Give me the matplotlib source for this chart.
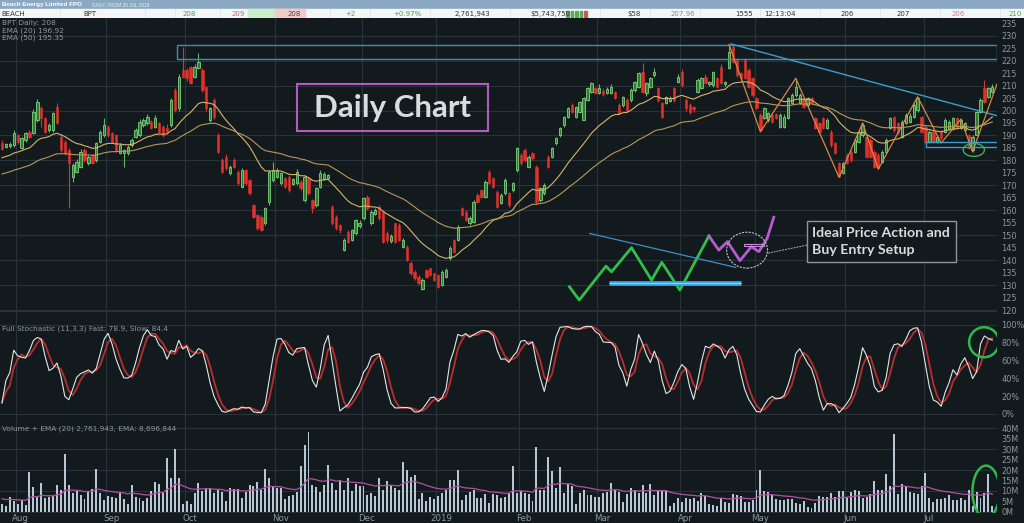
import numpy as np
import pandas as pd
import matplotlib
matplotlib.use('Agg')
import matplotlib.pyplot as plt
from matplotlib.patches import Rectangle, Ellipse

# ---- daily OHLC (BPT, from 26 Jul 2018) ----
opens = [
    187, 185.5, 185.8, 186, 190, 185, 188, 191.5, 190.8, 196.2,
    201, 196.9, 192, 192.2, 201.5, 189.5, 187.5, 184.2, 173.5, 175.5,
    177.5, 184, 178.8, 182, 180, 187.5, 190.2, 193.5, 190.8, 190,
    182.8, 183, 182.8, 186.2, 189.5, 190.2, 194.2, 194.8, 195.5, 193.5,
    194.9, 193.5, 192.9, 194.2, 208.2, 200.9, 216.2, 216.2, 217.6, 213.6,
    216.9, 216.2, 209.6, 196.2, 204.2, 190.2, 180.2, 181.5, 174.8, 180.2,
    175.5, 169.5, 176.1, 172.1, 162.1, 158.1, 157.4, 154.7, 163.4, 172.1,
    173.5, 170.8, 172.8, 173.5, 170.5, 170.8, 171.5, 164.1, 172.8, 164.1,
    162.1, 169.5, 172.5, 173, 161.4, 157.4, 154.1, 144, 151.4, 148,
    150.7, 153.5, 156.8, 165.4, 154.7, 158.5, 161.4, 159.4, 150.7, 147.5,
    154.7, 154.1, 145.4, 145.4, 138.7, 135.4, 133.4, 128.3, 136, 136.7,
    134.7, 134, 130, 133.4, 140.7, 148, 148, 160.8, 159.4, 154.7,
    155.4, 166.1, 168.1, 165.4, 175.5, 172.8, 167.4, 162.8, 166.8, 166.8,
    168.1, 176.1, 182.2, 184.2, 177.5, 182.8, 177.5, 164.1, 166.8, 181.5,
    181.5, 186.8, 190.2, 194.2, 197.5, 202.2, 197.5, 199.5, 196.2, 204.2,
    207.6, 208.9, 207, 208, 207, 206.9, 207.6, 202.2, 202.2, 204.2,
    204.2, 208.2, 209.6, 215.6, 206.9, 209.6, 214.2, 208.9, 202.9, 202.9,
    204, 208.9, 211.6, 215.6, 204.2, 202.2, 201.5, 207.6, 208.9, 213.6,
    210.5, 210.2, 212.9, 217.6, 210.5, 216.9, 225.6, 220.3, 215, 220.3,
    216.2, 212.9, 204.9, 198.2, 196.9, 196.2, 198.2, 198.5, 193.5, 193.5,
    196.9, 202.9, 206.2, 202.9, 204.9, 202.2, 204.9, 196.9, 194.9, 196.9,
    192.9, 191.5, 186.8, 178.8, 174.8, 182.2, 183.5, 183.5, 187.5, 190.2,
    189.5, 188.2, 183.5, 182.2, 179.5, 183.5, 192.9, 197.5, 194.9, 189.5,
    194.9, 195.5, 197.5, 200.2, 197.5, 193.5, 187.5, 191.5, 187.5, 191.5,
    191.5, 192.5, 192.5, 196.9, 192.9, 192.2, 190.2, 184.2, 190.2, 199.5,
    208.9, 205.6, 207.6,
]
highs = [
    188, 187, 187.5, 192, 190.5, 189.5, 191.5, 192, 200.5, 204.5,
    202, 197.5, 195, 199.5, 203, 190.5, 188, 185, 179, 180.5,
    184.5, 185, 182, 182.5, 187.5, 192, 196.9, 194, 191.5, 190.5,
    187, 184.5, 186, 189, 193, 196.5, 197, 198.5, 196, 198.2,
    195.5, 194, 194.5, 205, 209, 214.5, 225.6, 217, 218, 218.5,
    222.9, 217, 210, 201.5, 205, 191, 181, 182.5, 178, 181,
    176, 177, 176.5, 172.5, 162.5, 158.5, 158, 161.5, 176, 179.5,
    177, 175.5, 173.5, 174, 173, 176.5, 172, 174, 173.5, 164.5,
    169.5, 176, 175.5, 174.5, 162, 158, 154.5, 149, 152, 152.5,
    156.5, 156, 165.5, 166, 160, 161, 162, 160, 151.5, 150.5,
    155, 155, 149, 146, 139.5, 136, 134, 133, 136.5, 137,
    135, 134.5, 136, 137, 145.5, 148.5, 154, 161.5, 160, 157.5,
    164, 167, 168.5, 172, 176, 173.5, 168, 167, 173, 167.5,
    171.5, 185.5, 183, 185, 182, 183.5, 178, 169.5, 171, 182,
    185.5, 189.5, 193.5, 198, 201.5, 203, 202, 204, 205.5, 209.5,
    211.5, 209.5, 210.5, 209, 209.5, 210.5, 208, 203, 206, 205,
    209, 212, 215.5, 219.2, 211.5, 213.5, 217, 209.5, 203.5, 206,
    206, 209.5, 214.5, 216.5, 205, 203, 202, 213, 213.5, 214.5,
    212, 216, 213.5, 218.5, 212, 226.7, 226.5, 221, 215.5, 221,
    217, 213.5, 205.5, 199, 201.5, 199.5, 198.5, 199, 199, 198.5,
    205.5, 207, 212.9, 207, 205.5, 205.5, 205.5, 197.5, 195.5, 197.5,
    197, 192, 187.5, 179.5, 179.5, 183, 184, 188.8, 192, 195,
    190, 189, 184, 183, 184, 189, 197.5, 198, 195.5, 196,
    199, 199, 203, 205.5, 198, 194, 192, 192, 190, 192,
    196.8, 196, 197.5, 197.5, 197, 195.5, 190.5, 190, 200, 205,
    212.2, 209.5, 210.5,
]
lows = [
    184, 185, 185, 185.5, 186.5, 184.5, 187.5, 189, 190.5, 195.5,
    193.5, 191, 191.5, 191.5, 194.5, 183.5, 182, 160.8, 171.5, 175,
    177, 179.5, 178, 178.5, 179.5, 187, 189.5, 189.5, 187, 183.5,
    182.5, 177.5, 182, 185.5, 189, 189.5, 193.5, 194, 192.5, 193,
    191, 189.5, 191, 193.5, 199.5, 200, 213, 212, 210.5, 213,
    216.5, 207.5, 200, 195.5, 196.5, 183, 175, 176, 174, 177,
    170, 169, 170, 166, 157, 152, 151.5, 154, 162, 171.5,
    173, 170, 169, 167.5, 170, 170, 168, 163.5, 166, 159,
    161.5, 169, 172, 172.5, 154, 152, 151, 143.5, 147, 147.5,
    150, 153, 156, 160, 154, 158, 156, 147, 147, 147,
    147, 147.5, 145, 139.5, 134, 132, 130, 128, 133, 133.5,
    131.5, 129, 129.5, 133, 140, 143, 147.5, 157.5, 155.5, 154,
    155, 163, 165, 165, 170.5, 169, 161, 162.5, 166, 161.5,
    167.5, 175.5, 178, 179.5, 177, 180, 162.5, 163.5, 166, 177,
    181, 186, 189.5, 193.5, 197, 199, 197, 199, 196, 204,
    207, 206.5, 206.5, 206, 206.5, 206.5, 204.5, 198.5, 201.5, 199.5,
    203.5, 207.5, 209, 207, 206, 209, 213.5, 203.5, 197, 202.5,
    203.5, 203.5, 211, 209.5, 200, 198.5, 199.5, 207, 208.5, 210.5,
    210, 209.5, 209, 210.5, 210, 216.5, 219, 213.5, 212, 212.5,
    209, 205.5, 200.5, 191.5, 196.5, 195.5, 195, 196.5, 193, 193,
    196.5, 202.5, 205.5, 202.5, 201, 201.5, 202.5, 192.5, 191, 192.5,
    192.5, 185.5, 182.5, 173.2, 174.5, 178.5, 179.5, 183, 187, 189.5,
    181, 181, 177, 176.5, 179, 183, 192.5, 191.5, 190.5, 189,
    194.5, 195, 197, 199.5, 191, 187, 187, 187, 187, 188.5,
    191, 192, 192, 192.5, 192.5, 192, 184.5, 183.5, 190, 199,
    203, 205, 207,
]
closes = [
    184.5, 186.5, 186.6, 191, 187.5, 188.8, 190.8, 189.5, 199.5, 203.5,
    197, 191.5, 194, 198.9, 195, 184.2, 182.8, 178.8, 178, 179.5,
    183.5, 180, 181.5, 179, 186.8, 191.5, 194, 190.2, 187.5, 184.2,
    186.2, 184, 185.5, 188.2, 192.2, 195.5, 196.2, 197.5, 192.9, 196.9,
    191.5, 190.2, 191.5, 204.2, 200.2, 213.6, 213.6, 212.9, 210.9, 217.6,
    219.6, 208.2, 200.9, 200.9, 197.5, 183.5, 175.5, 176.8, 177.5, 177.5,
    170.8, 176.1, 170.8, 166.8, 157.4, 152.7, 152.1, 160.8, 175.5, 176.1,
    176.1, 174.8, 169.5, 168.1, 172.5, 175.5, 168.8, 173.5, 166.8, 160.8,
    168.8, 174.8, 174.5, 174, 154.7, 152.7, 152.1, 148, 147.4, 152,
    156, 155, 164.8, 160.8, 159.4, 160, 156.8, 147.4, 148, 149.5,
    147.4, 148, 148, 140.1, 134.7, 132.7, 130.7, 132, 133.4, 134,
    132, 129.4, 135.4, 136, 144.7, 143.4, 153.4, 158.1, 156.1, 156.8,
    163.4, 163.4, 165.4, 171.5, 170.8, 169.5, 161.4, 166.1, 172.1, 162.1,
    170.8, 184.8, 178.8, 180.2, 181.5, 180.8, 163.4, 168.8, 170.1, 177.5,
    184.8, 188.8, 192.8, 197.5, 200.9, 199.5, 201.5, 203.5, 204.9, 208.9,
    210.9, 206.9, 209, 206.5, 208.5, 209.6, 204.9, 198.9, 205.6, 200.2,
    208.2, 211.6, 214.9, 207.6, 210.9, 212.9, 215.6, 204.2, 197.5, 205.6,
    205, 204.2, 213.6, 210.2, 200.9, 199.5, 200.5, 212.2, 212.9, 210.9,
    211.5, 215.6, 209.6, 210.9, 211.5, 223.6, 219.6, 214.2, 213, 212.9,
    209.6, 206.2, 200.9, 192.2, 200.9, 198.9, 195.5, 197, 198.2, 197.5,
    204.9, 206.2, 209.6, 206.2, 201.5, 204.9, 202.9, 192.9, 191.5, 192.9,
    196.2, 186.2, 182.8, 173.5, 178.8, 178.8, 180.2, 188.2, 191.5, 194.2,
    181.5, 181.5, 177.5, 176.8, 183.5, 188.2, 196.9, 192.2, 190.8, 195.5,
    198.2, 198, 202.2, 204.9, 191.5, 187.5, 191.5, 187.5, 189.5, 188.8,
    196.2, 195.5, 196.9, 192.9, 196.2, 194.8, 184.8, 189.5, 199.5, 204.2,
    203.5, 208.9, 209.6,
]
# volume in millions of shares
volume = [
    4, 2.6, 7, 5, 4, 5.7, 3.4, 19, 11.8, 7.2,
    14, 6.5, 7.2, 7.7, 13, 10.4, 27.5, 13, 9.2, 10,
    8, 6.1, 10, 11, 20.6, 9.2, 5.7, 7.5, 7.2, 6.5,
    9.2, 6, 4, 12.8, 7.2, 6.5, 5, 6.5, 10, 14.4,
    13.3, 9.2, 25.5, 16, 30, 16, 3.8, 5, 3.8, 9,
    13.7, 10, 11.2, 11.2, 9.2, 10.4, 9.7, 5.4, 11.2, 11,
    11, 6.5, 9.7, 12.8, 12.3, 14.4, 10.7, 20.3, 16.4, 12,
    11.5, 11.2, 6, 7.5, 8, 9.7, 22, 31.7, 38.3, 12.8,
    11.8, 9.7, 12.8, 22.5, 13.9, 10.4, 15.4, 10.4, 16.4, 10,
    13.5, 12.3, 12.3, 8, 9, 7.5, 16.4, 10.7, 14.8, 12.8,
    11.2, 10.7, 23.8, 20.2, 16.7, 17.8, 6, 9.1, 5.4, 6.9,
    6.1, 7.6, 8.8, 10.4, 15.1, 15.1, 20.2, 5.7, 8.3, 9.6,
    10.4, 6.5, 6.5, 8.5, 4.1, 8.5, 8, 6.5, 6.9, 9.1,
    21.7, 9.1, 10, 8.8, 8.5, 5.4, 30.9, 10.4, 10.7, 26.1,
    19.4, 11.2, 21.4, 9.1, 13.5, 12.3, 3.8, 8.8, 10.4, 8,
    8, 7.2, 7.2, 8.8, 9.6, 13.9, 10.4, 9.6, 4.9, 8.5,
    11.5, 10.4, 9.1, 12.8, 8.8, 13.2, 8.3, 10.7, 10, 9.9,
    2.8, 4.4, 6.5, 4.9, 6.8, 6, 6.5, 5.4, 8.8, 7.6,
    3.8, 3.3, 2.8, 6.5, 4.9, 4.1, 8.5, 8, 7.6, 4.9,
    4.9, 5.7, 10.7, 19.8, 9.9, 9.6, 8, 6, 5.7, 5.7,
    6, 6.1, 4.1, 3.8, 5.2, 2.5, 1.7, 4.1, 7.6, 6.9,
    6.9, 8.8, 7.2, 10, 10, 6.9, 9.6, 10.4, 10, 6.5,
    6.9, 8.5, 14.6, 10.7, 10.7, 18, 12.3, 37.2, 8.5, 13.2,
    12.3, 9.6, 8.8, 8.5, 12.3, 18.7, 6.5, 4.6, 6, 6,
    6.8, 8, 5.7, 5.7, 6.5, 5.7, 10.4, 2.8, 9.6, 6.5,
    9.1, 18, 2.8,
]

month_labels = ['Aug', 'Sep', 'Oct', 'Nov', 'Dec', '2019', 'Feb', 'Mar', 'Apr', 'May', 'Jun', 'Jul']
month_start = [4, 27, 47, 70, 92, 111, 132, 152, 173, 192, 215, 235]

# moving average starting levels (already running before the first bar)
ema20_seed = 180.7
ema50_seed = 174.1
vol_ema_seed = 6.5

# drawn annotations (bar index, price)
box_top = (44.5, 220.6, 226.3)
trend_pts = [(185.5, 226.7), (254.2, 197.5)]
zigzag_pts = [(185, 226.5), (193, 191.5), (202, 212.9), (213, 173.2), (219, 195),
              (223, 176.5), (233, 205.5), (239, 187), (244, 196.5), (247, 183.5), (253.2, 210.6)]
support_box = (235.1, 185.5, 187.5)
ideal_green = [(144.4, 129.3), (146.9, 124.0), (153.7, 137.6), (155.1, 135.3), (160.2, 145.0),
               (165.3, 132.0), (167.9, 139.1), (172.5, 128.0), (179.9, 149.7)]
ideal_pink = [(179.9, 149.7), (182.4, 144.0), (184.6, 147.4), (187.8, 139.8), (190.7, 145.4),
              (192.6, 143.4), (194.7, 148.7), (196.4, 157.2)]
ideal_support = [(154.5, 131.0), (188.1, 131.0)]
ideal_trend = [(149.6, 150.7), (186.7, 137.1)]

BG = '#131a1e'
GRID = '#27323a'
TXT = '#8d979d'
UP = '#5fb55f'
DOWN = '#e0312b'


def ema(values, span, seed):
    k = 2.0 / (span + 1)
    out = []
    prev = seed
    for v in values:
        prev = prev + k * (v - prev)
        out.append(prev)
    return np.array(out)


df = pd.DataFrame({'o': opens, 'h': highs, 'l': lows, 'c': closes, 'v': volume})
x = np.arange(len(df))
df['ema20'] = ema(df.c, 20, ema20_seed)
df['ema50'] = ema(df.c, 50, ema50_seed)
df['vema'] = ema(df.v, 20, vol_ema_seed)
ll = df.l.rolling(11, min_periods=1).min()
hh = df.h.rolling(11, min_periods=1).max()
raw = 100 * (df.c - ll) / (hh - ll)
df['fast'] = raw.rolling(3, min_periods=1).mean()
df['slow'] = df.fast.rolling(3, min_periods=1).mean()

W, H = 1024, 523
fig = plt.figure(figsize=(W / 100, H / 100), dpi=100, facecolor=BG)
plt.rcParams['font.family'] = ['DejaVu Sans']

right = 997 / W
ax_p = fig.add_axes([0, 1 - 311 / H, right, 293 / H])
ax_s = fig.add_axes([0, 1 - 418 / H, right, 107 / H])
ax_v = fig.add_axes([0, 1 - 513 / H, right, 95 / H])

for ax in (ax_p, ax_s, ax_v):
    ax.set_facecolor(BG)
    for s in ax.spines.values():
        s.set_visible(False)
    ax.set_xlim(-0.5, 253.2)
    ax.yaxis.tick_right()
    ax.tick_params(axis='y', length=0, pad=3, labelsize=5.9, labelcolor=TXT)
    ax.tick_params(axis='x', length=0)
    for m in month_start:
        ax.axvline(m - 0.5, color=GRID, lw=0.8, zorder=0)
    ax.set_xticks([])

# ---- price panel ----
ax_p.set_ylim(119.6, 237.1)
ax_p.set_yticks(range(120, 236, 5))
for g in range(120, 231, 10):
    ax_p.axhline(g, color=GRID, lw=0.8, zorder=0)

up = df.c >= df.o
ax_p.vlines(x, df.l, df.h, colors=np.where(up, UP, DOWN), lw=0.8, zorder=2)
body = (df.c - df.o).abs().clip(lower=0.4)
ax_p.bar(x[up], body[up], bottom=df.o[up], width=0.6, color='#2f7a35',
         edgecolor='#7fd17d', linewidth=0.6, zorder=3)
ax_p.bar(x[~up], body[~up], bottom=df.c[~up], width=0.6, color=DOWN,
         edgecolor=DOWN, linewidth=0.4, zorder=3)
ax_p.plot(x, df.ema20, color='#d6b46a', lw=0.8, zorder=4)
ax_p.plot(x, df.ema50, color='#b8985a', lw=0.8, zorder=4)

ax_p.add_patch(Rectangle((box_top[0], box_top[1]), 253.2 - box_top[0], box_top[2] - box_top[1],
                         fill=False, ec='#3a8fb4', lw=1.0, zorder=5))
tx, ty = zip(*trend_pts)
ax_p.plot(tx, ty, color='#3f9ccd', lw=1.0, zorder=5)
zx, zy = zip(*zigzag_pts)
ax_p.plot(zx, zy, color='#d9864a', lw=0.9, zorder=5)
ax_p.add_patch(Rectangle((support_box[0], support_box[1]), 254 - support_box[0],
                         support_box[2] - support_box[1], fill=False, ec='#3f9ccd', lw=1.0, zorder=5))
ax_p.add_patch(Ellipse((247.3, 184.2), 5.4, 5.2, fill=False, ec='#3fae5a', lw=1.0, zorder=6))

# "Daily Chart" title box
ax_p.add_patch(Rectangle((75.1, 191.8), 48.6, 18.8, fill=False, ec='#b45bbd', lw=1.5, zorder=6))
ax_p.text(99.4, 201.0, 'Daily Chart', color='#d9dcdd', fontsize=22.5, fontweight='bold',
          family='Lato', ha='center', va='center', zorder=7)

# ideal setup sketch
gx, gy = zip(*ideal_green)
ax_p.plot(gx, gy, color='#2fbf4a', lw=2, zorder=6)
px, py = zip(*ideal_pink)
ax_p.plot(px, py, color='#b65bd0', lw=2, zorder=6)
sx, sy = zip(*ideal_support)
ax_p.plot(sx, sy, color='#2f9fe0', lw=3.5, zorder=6, solid_capstyle='butt')
ax_p.plot(sx, sy, color='#8fd0f5', lw=1.0, zorder=6, solid_capstyle='butt')
itx, ity = zip(*ideal_trend)
ax_p.plot(itx, ity, color='#3b8fc8', lw=0.9, zorder=6)
ax_p.add_patch(Rectangle((188.8, 145.6), 5.1, 0.9, fill=False, ec='#c78ad8', lw=0.8, zorder=6))
ax_p.add_patch(Ellipse((189.6, 144.0), 10.4, 14.4, fill=False, ec='#b9bfc2', lw=0.8,
                       ls=(0, (2, 1)), zorder=6))
ax_p.plot([194.9, 204.8], [142.8, 146.0], color='#aab0b3', lw=0.7, ls=(0, (2, 1)), zorder=6)
ax_p.add_patch(Rectangle((204.8, 139.1), 37.9, 16.6, fill=True, fc=BG, ec='#8f9598', lw=1.0, zorder=6))
ax_p.text(206.0, 147.4, 'Ideal Price Action and\nBuy Entry Setup', color='#d9dcdd', fontsize=10.2,
          fontweight='bold', family='Lato', ha='left', va='center', linespacing=1.45, zorder=7)

for i, t in enumerate(['BPT Daily: 208', 'EMA (20) 196.92', 'EMA (50) 195.35']):
    ax_p.text(0.002, 0.984 - i * 0.026, t, transform=ax_p.transAxes, color=TXT,
              fontsize=5.3, va='center', ha='left')

# ---- stochastic panel ----
ax_s.set_ylim(-4.5, 115.7)
ax_s.set_yticks(range(0, 101, 20))
ax_s.set_yticklabels([f'{v}%' for v in range(0, 101, 20)])
for g in (0, 100):
    ax_s.axhline(g, color=GRID, lw=0.8, zorder=0)
ax_s.axhline(115.7, color=GRID, lw=0.8, zorder=0)
ax_s.plot(x, df.slow, color='#b82e2e', lw=1.3, zorder=3)
ax_s.plot(x, df.fast, color='#e4e6e6', lw=0.8, zorder=4)
ax_s.add_patch(Ellipse((249.9, 80.6), 7.6, 33.7, fill=False, ec='#2fb84c', lw=1.8, zorder=5))
ax_s.text(0.002, 0.83, 'Full Stochastic (11,3,3) Fast: 78.9, Slow: 84.4', transform=ax_s.transAxes,
          color=TXT, fontsize=5.3, va='center', ha='left')

# ---- volume panel ----
ax_v.set_ylim(-0.5, 44.8)
ax_v.set_yticks(range(0, 41, 5))
ax_v.set_yticklabels([f'{v}M' for v in range(0, 41, 5)])
for g in range(0, 41, 10):
    ax_v.axhline(g, color=GRID, lw=0.8, zorder=0)
ax_v.bar(x, df.v, width=0.5, color='#b7c7d6', zorder=2)
ax_v.plot(x, df.vema, color='#b0509f', lw=0.9, zorder=3)
ax_v.add_patch(Ellipse((250.4, 9.7), 6.9, 24.8, fill=False, ec='#2fb84c', lw=1.8, zorder=5))
ax_v.text(0.002, 0.89, 'Volume + EMA (20) 2,761,943, EMA: 8,696,844', transform=ax_v.transAxes,
          color=TXT, fontsize=5.3, va='center', ha='left')
ax_v.set_xticks([m + 0.8 for m in month_start])
ax_v.set_xticklabels(month_labels)
ax_v.tick_params(axis='x', length=0, pad=1, labelsize=6.2, labelcolor=TXT)

# ---- quote header ----
hd = fig.add_axes([0, 1 - 18 / H, 1, 18 / H])
hd.set_xlim(0, W)
hd.set_ylim(18, 0)
hd.axis('off')
hd.add_patch(Rectangle((0, 0), W, 9, color='#8ba8c3'))
hd.add_patch(Rectangle((0, 9), W, 9, color='#f4f5f6'))
hd.text(2, 4.6, 'Beach Energy Limited FPO', color='white', fontsize=4.5, fontweight='bold',
        family='Liberation Sans', va='center')
hd.text(92, 4.8, 'DAILY, FROM 26 JUL 2018', color='#e8eef4', fontsize=3.4,
        family='Liberation Sans', va='center')
hd.add_patch(Rectangle((248, 9), 27, 9, color='#c9efc9'))
hd.add_patch(Rectangle((275, 9), 30, 9, color='#f6c9c9'))
for sep in (60, 145, 175, 220, 330, 370, 430, 510, 600, 650, 700, 760, 820, 880, 940, 1000):
    hd.plot([sep, sep], [9, 18], color='#dde1e4', lw=0.5)
quote = [(1, 'BEACH', '#333333'), (83, 'BPT', '#333333'), (183, '208', '#49a34b'),
         (232, '209', '#c86464'), (288, '208', '#444444'), (345, '+2', '#49a34b'),
         (393, '+0.97%', '#49a34b'), (455, '2,761,943', '#333333'), (530, '$5,743,750', '#333333'),
         (627, '$58', '#333333'), (671, '207.96', '#8a8a8a'), (735, '1555', '#333333'),
         (764, '12:13:04', '#333333'), (841, '206', '#333333'), (897, '207', '#333333'),
         (952, '206', '#d77a8a'), (1009, '210', '#49a34b')]
for qx, qt, qc in quote:
    hd.text(qx, 13.6, qt, color=qc, fontsize=5, va='center', ha='left')
for k, c in enumerate(['#5aa85a', '#5aa85a', '#5aa85a', '#5aa85a', '#c85a5a']):
    hd.add_patch(Rectangle((566 + k * 4.5, 11), 2.5, 5.5, color=c))

fig.savefig('out.png', dpi=100, facecolor=BG)
